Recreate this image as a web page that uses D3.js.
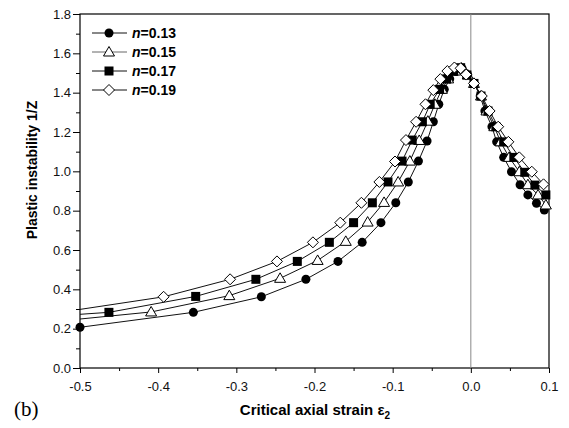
<!DOCTYPE html>
<html>
<head>
<meta charset="utf-8">
<script src="https://cdn.jsdelivr.net/npm/d3@7"></script>
<style>
  body { margin: 0; background: #fff; }
  svg { display: block; font-family: "Liberation Sans", Arial, sans-serif; }
</style>
</head>
<body>
<div id="chart"></div>
<script>
// values, [strain e2, 1/Z]
const n013 = [[-0.5,0.207],[-0.355,0.283],[-0.268,0.362],[-0.211,0.451],[-0.170,0.542],[-0.139,0.639],
  [-0.115,0.739],[-0.096,0.840],[-0.080,0.946],[-0.067,1.052],[-0.056,1.154],[-0.048,1.252],[-0.041,1.341],
  [-0.034,1.417],[-0.027,1.470],[-0.019,1.507],[-0.011,1.522],[-0.004,1.490],[0.004,1.447],[0.012,1.383],
  [0.018,1.307],[0.027,1.227],[0.033,1.150],[0.042,1.071],[0.052,0.998],[0.063,0.932],[0.073,0.880],
  [0.084,0.838],[0.094,0.803]];
const n015 = [[-0.5,0.249],[-0.409,0.285],[-0.309,0.368],[-0.244,0.456],[-0.196,0.547],[-0.160,0.644],
  [-0.132,0.742],[-0.111,0.842],[-0.093,0.946],[-0.078,1.052],[-0.066,1.157],[-0.055,1.255],[-0.046,1.341],
  [-0.037,1.417],[-0.029,1.470],[-0.020,1.510],[-0.012,1.525],[-0.004,1.490],[0.004,1.447],[0.013,1.383],
  [0.020,1.307],[0.030,1.227],[0.038,1.150],[0.049,1.071],[0.062,0.998],[0.073,0.932],[0.086,0.880],
  [0.096,0.829]];
const n017 = [[-0.5,0.273],[-0.463,0.283],[-0.352,0.364],[-0.275,0.451],[-0.222,0.542],[-0.181,0.639],
  [-0.150,0.739],[-0.126,0.840],[-0.106,0.946],[-0.088,1.052],[-0.075,1.159],[-0.062,1.252],[-0.052,1.341],
  [-0.040,1.417],[-0.031,1.470],[-0.022,1.510],[-0.013,1.527],[-0.005,1.490],[0.004,1.447],[0.013,1.383],
  [0.022,1.307],[0.032,1.227],[0.042,1.150],[0.055,1.071],[0.069,0.995],[0.082,0.930],[0.096,0.880]];
const n019 = [[-0.5,0.298],[-0.393,0.362],[-0.308,0.451],[-0.248,0.542],[-0.202,0.639],[-0.167,0.739],
  [-0.140,0.840],[-0.117,0.946],[-0.097,1.050],[-0.083,1.159],[-0.070,1.252],[-0.058,1.341],[-0.048,1.413],
  [-0.039,1.469],[-0.030,1.510],[-0.021,1.528],[-0.013,1.524],[-0.006,1.492],[0.004,1.447],[0.014,1.383],
  [0.024,1.307],[0.035,1.227],[0.048,1.150],[0.062,1.071],[0.078,0.998],[0.093,0.934]];

const seriesNames = ["0.13", "0.15", "0.17", "0.19"];
const seriesData = [n013, n015, n017, n019];
// the first point of these series sits on the left border and carries no marker
const skipFirstMarker = [false, true, true, true];

const xTicks = [-0.5, -0.4, -0.3, -0.2, -0.1, 0.0, 0.1];
const xMinor = [-0.45, -0.35, -0.25, -0.15, -0.05, 0.05];
const yTicks = [0.0, 0.2, 0.4, 0.6, 0.8, 1.0, 1.2, 1.4, 1.6, 1.8];
const yMinor = [0.1, 0.3, 0.5, 0.7, 0.9, 1.1, 1.3, 1.5, 1.7];

const width = 569, height = 428;
const margin = { top: 14, right: 20, bottom: 60, left: 80 };
const innerWidth = width - margin.left - margin.right;
const innerHeight = height - margin.top - margin.bottom;

const svg = d3.select("#chart").append("svg")
  .attr("width", width)
  .attr("height", height);

const g = svg.append("g")
  .attr("transform", `translate(${margin.left},${margin.top})`);

const x = d3.scaleLinear().domain([-0.5, 0.1]).range([0, innerWidth]);
const y = d3.scaleLinear().domain([0, 1.8]).range([innerHeight, 0]);

const fmt = d => d.toFixed(1);

// minor ticks
g.append("g")
  .attr("transform", `translate(0,${innerHeight})`)
  .call(d3.axisBottom(x).tickValues(xMinor).tickSize(3).tickFormat(""))
  .call(a => a.select(".domain").remove())
  .call(a => a.selectAll("text").remove());
g.append("g")
  .call(d3.axisLeft(y).tickValues(yMinor).tickSize(4).tickFormat(""))
  .call(a => a.select(".domain").remove())
  .call(a => a.selectAll("text").remove());

// major ticks
const xAxis = g.append("g")
  .attr("transform", `translate(0,${innerHeight})`)
  .call(d3.axisBottom(x).tickValues(xTicks).tickSize(5).tickPadding(9).tickFormat(fmt));
xAxis.select(".domain").remove();
xAxis.selectAll("text").attr("font-size", 13).attr("fill", "#111").attr("font-family", "Liberation Sans, Arial");

const yAxis = g.append("g")
  .call(d3.axisLeft(y).tickValues(yTicks).tickSize(7).tickPadding(2).tickFormat(fmt));
yAxis.select(".domain").remove();
yAxis.selectAll("text").attr("font-size", 13).attr("fill", "#111").attr("font-family", "Liberation Sans, Arial");

// frame
g.append("rect")
  .attr("width", innerWidth)
  .attr("height", innerHeight)
  .attr("fill", "none")
  .attr("stroke", "#000")
  .attr("stroke-width", 1.2);

// vertical reference line at zero strain
g.append("line")
  .attr("x1", x(0)).attr("x2", x(0))
  .attr("y1", 0).attr("y2", innerHeight)
  .attr("stroke", "#888")
  .attr("stroke-width", 1);

// marker shapes
function drawMarker(sel, i, cx, cy) {
  if (i === 0) {
    sel.append("circle").attr("cx", cx).attr("cy", cy).attr("r", 4.5).attr("fill", "#000");
  } else if (i === 1) {
    sel.append("path")
      .attr("d", `M${cx},${cy - 5.5}L${cx + 5.5},${cy + 4}L${cx - 5.5},${cy + 4}Z`)
      .attr("fill", "#fff").attr("stroke", "#000").attr("stroke-width", 1);
  } else if (i === 2) {
    sel.append("rect").attr("x", cx - 4.5).attr("y", cy - 4.5).attr("width", 9).attr("height", 9).attr("fill", "#000");
  } else {
    sel.append("path")
      .attr("d", `M${cx},${cy - 5.5}L${cx + 5.5},${cy}L${cx},${cy + 5.5}L${cx - 5.5},${cy}Z`)
      .attr("fill", "#fff").attr("stroke", "#000").attr("stroke-width", 1);
  }
}

const line = d3.line().x(d => x(d[0])).y(d => y(d[1]));

seriesData.forEach((data, i) => {
  g.append("path")
    .datum(data)
    .attr("fill", "none")
    .attr("stroke", "#111")
    .attr("stroke-width", 1)
    .attr("d", line);
});

seriesData.forEach((data, i) => {
  const mg = g.append("g");
  data.forEach((d, j) => {
    if (j === 0 && skipFirstMarker[i]) return;
    drawMarker(mg, i, x(d[0]), y(d[1]));
  });
});

// legend
const legend = svg.append("g").attr("transform", `translate(${margin.left + 12},${margin.top + 19})`);
seriesNames.forEach((name, i) => {
  const row = legend.append("g").attr("transform", `translate(0,${i * 19})`);
  row.append("line")
    .attr("x1", 0).attr("x2", 35).attr("y1", 0).attr("y2", 0)
    .attr("stroke", i === 1 ? "#666" : "#111").attr("stroke-width", 1);
  drawMarker(row, i, 17, 0);
  const t = row.append("text")
    .attr("x", 40).attr("y", 0).attr("dy", "0.35em")
    .attr("font-size", 14).attr("font-weight", "bold");
  t.append("tspan").attr("font-style", "italic").text("n");
  t.append("tspan").text("=" + name);
});

// axis titles
svg.append("text")
  .attr("transform", "rotate(-90)")
  .attr("x", -170)
  .attr("y", 37)
  .attr("text-anchor", "middle")
  .attr("font-size", 14)
  .attr("font-weight", "bold")
  .text("Plastic instability 1/Z");

const xt = svg.append("text")
  .attr("x", 315)
  .attr("y", 415)
  .attr("text-anchor", "middle")
  .attr("font-size", 15)
  .attr("font-weight", "bold");
xt.append("tspan").text("Critical axial strain ");
xt.append("tspan").text("ε");
xt.append("tspan").attr("font-size", 10).attr("dy", 4).text("2");

svg.append("text")
  .attr("x", 14)
  .attr("y", 416)
  .attr("font-family", "Liberation Serif, Times New Roman, serif")
  .attr("font-size", 21)
  .text("(b)");
</script>
</body>
</html>
